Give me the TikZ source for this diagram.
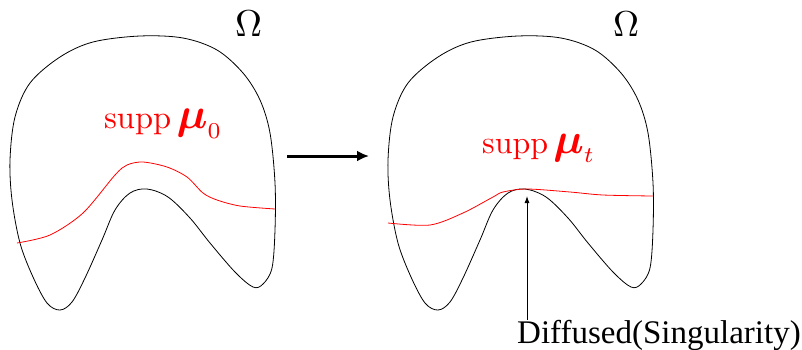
\documentclass[tikz,border=0pt]{standalone}
\usepackage{amsmath}
\usepackage{bm}
\usepackage{fontspec}
\newfontfamily\timesfont{Liberation Serif}
\usetikzlibrary{arrows.meta}
\newcommand{\bigmu}{\scalebox{1.35}{$\bm{\mu}$}}
\begin{document}
\begin{tikzpicture}[x=1pt,y=-1pt,
  outline/.style={line width=0.8pt, black},
  suppline/.style={line width=0.8pt, red},
  supplabel/.style={red, anchor=base west, inner sep=0pt},
  omegalabel/.style={black, anchor=base west, inner sep=0pt},
  bigarrow/.style={line width=3pt, -{Latex[length=12pt,width=11pt]}},
  thinarrow/.style={line width=0.9pt, -{Latex[length=7pt,width=5pt]}},
  difflabel/.style={anchor=base west, inner sep=0pt, font=\timesfont\fontsize{33}{40}\selectfont}]
\useasboundingbox (0,0) rectangle (802,349);
% domains
\foreach \dx in {0,378}{
\begin{scope}[xshift=\dx pt]
\draw[outline] plot[smooth cycle, tension=0.55] coordinates {
 (140,36) (183,38) (217,50) (243,73) (260,100) (270,133) (275,183) (275,230)
 (272,268) (263,284) (253,287) (235,272) (210,243) (190,218) (168,197) (147,189)
 (130,193) (115,210) (102,240) (85,278) (72,302) (60,310) (47,303) (33,277)
 (20,243) (12,200) (10,160) (15,117) (30,83) (60,57) (93,42)};
\end{scope}}
% red supports
\draw[suppline] plot[smooth, tension=0.5] coordinates {
 (17,243) (50,235) (83,213) (115,175) (127,165) (143,162) (167,167) (187,177)
 (203,193) (217,200) (240,206) (275,209)};
\draw[suppline] plot[smooth, tension=0.5] coordinates {
 (388,223) (430,225) (463,213) (493,197) (503,192) (527,189) (570,192)
 (603,195) (653,196)};
% labels
\node[supplabel] (s0) at (104,128) {\resizebox{118pt}{!}{$\mathrm{supp}\,\bigmu_0$}};
\node[supplabel] (st) at (482,153) {\resizebox{113pt}{!}{$\mathrm{supp}\,\bigmu_t$}};
\node[omegalabel] (o1) at (235,36) {\resizebox{27pt}{!}{$\Omega$}};
\node[omegalabel] (o2) at (613,36) {\resizebox{26pt}{!}{$\Omega$}};
% middle arrow
\coordinate (a1) at (287,156);
\coordinate (a2) at (369,156);
\draw[bigarrow] (a1) -- (a2);
% singularity
\node[difflabel] (diff) at (517,343) {Diffused(Singularity)};
\coordinate (tip) at (527,196);
\draw[thinarrow] (diff.north -| tip) -- (tip);
\end{tikzpicture}
\end{document}
